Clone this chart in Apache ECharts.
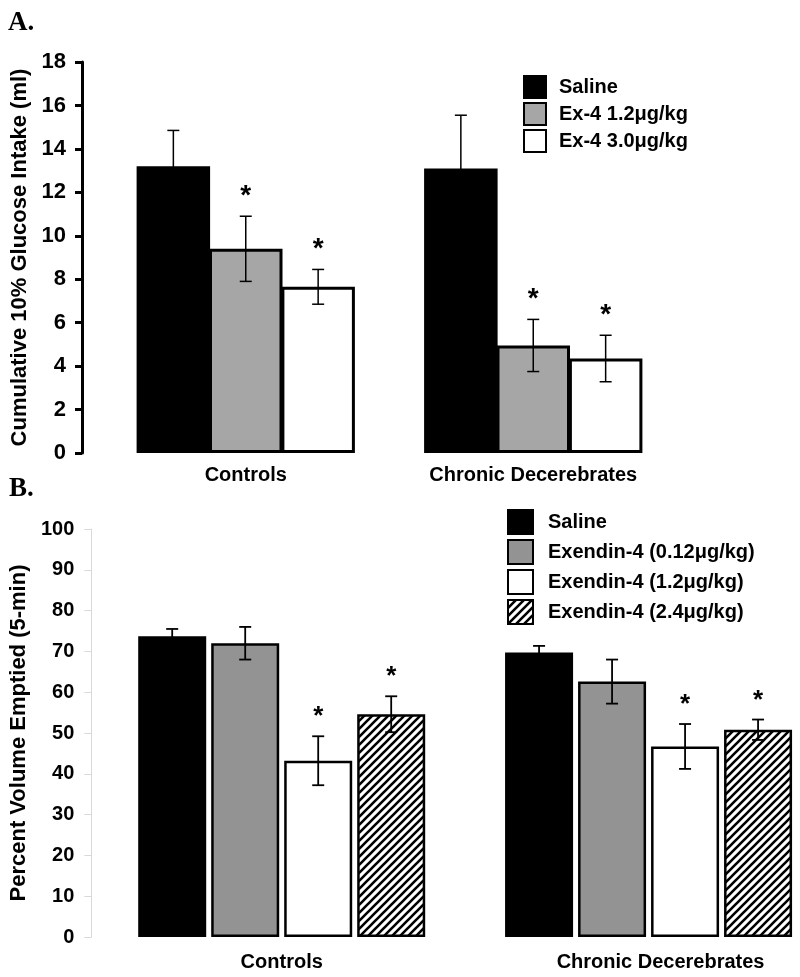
<!DOCTYPE html>
<html><head><meta charset="utf-8">
<script src="https://cdn.jsdelivr.net/npm/echarts@6/dist/echarts.min.js"></script>
<style>html,body{margin:0;padding:0;background:#fff;overflow:hidden}#c{width:840px;height:977px}</style>
</head><body><div id="c"></div>
<script>
// ---------- Panel A data ----------
const categoriesA = ['Controls', 'Chronic Decerebrates'];
const seriesNamesA = ['Saline', 'Ex-4 1.2μg/kg', 'Ex-4 3.0μg/kg'];
const salineA = [13.2, 13.1];
const ex4_12A = [9.4, 4.95];
const ex4_30A = [7.65, 4.35];
const salineErrA = [1.65, 2.45];
const ex4_12ErrA = [1.5, 1.2];
const ex4_30ErrA = [0.8, 1.07];
const sigA = [[0, 0], [1, 1], [1, 1]];
const yTicksA = [0, 2, 4, 6, 8, 10, 12, 14, 16, 18];
const yNameA = 'Cumulative 10% Glucose Intake (ml)';

// ---------- Panel B data ----------
const categoriesB = ['Controls', 'Chronic Decerebrates'];
const seriesNamesB = ['Saline', 'Exendin-4 (0.12μg/kg)', 'Exendin-4 (1.2μg/kg)', 'Exendin-4 (2.4μg/kg)'];
const salineB = [73.7, 69.7];
const ex012B = [72.0, 62.6];
const ex12B = [43.2, 46.7];
const ex24B = [54.6, 50.8];
const salineErrB = [1.8, 1.65];
const ex012ErrB = [4.0, 5.4];
const ex12ErrB = [6.0, 5.5];
const ex24ErrB = [4.4, 2.5];
const sigB = [[0, 0], [0, 0], [1, 1], [1, 1]];
const yTicksB = [0, 10, 20, 30, 40, 50, 60, 70, 80, 90, 100];
const yNameB = 'Percent Volume Emptied (5-min)';

const FONT = '"Liberation Sans", Arial, sans-serif';

function hatch() {
  const c = document.createElement('canvas');
  c.width = 8; c.height = 8;
  const g = c.getContext('2d');
  g.fillStyle = '#fff'; g.fillRect(0, 0, 8, 8);
  g.strokeStyle = '#000'; g.lineWidth = 2.6; g.lineCap = 'square';
  g.beginPath();
  g.moveTo(-1, 9); g.lineTo(9, -1);
  g.moveTo(-5, 5); g.lineTo(5, -5);
  g.moveTo(3, 13); g.lineTo(13, 3);
  g.stroke();
  return c;
}

function errData(means, errs, sig) {
  return means.map((m, i) => [i, m - errs[i], m + errs[i], sig[i]]);
}

function errRender(n, idx, pitch, capW, lw, starFont, starGap) {
  return function (params, api) {
    const c = api.value(0), lo = api.value(1), hi = api.value(2), s = api.value(3);
    const pLo = api.coord([c, lo]);
    const pHi = api.coord([c, hi]);
    const x = pLo[0] + (idx - (n - 1) / 2) * pitch;
    const st = { stroke: '#000', lineWidth: lw };
    const children = [
      { type: 'line', shape: { x1: x, y1: pLo[1], x2: x, y2: pHi[1] }, style: st },
      { type: 'line', shape: { x1: x - capW / 2, y1: pLo[1], x2: x + capW / 2, y2: pLo[1] }, style: st },
      { type: 'line', shape: { x1: x - capW / 2, y1: pHi[1], x2: x + capW / 2, y2: pHi[1] }, style: st }
    ];
    if (s) {
      children.push({ type: 'text', style: { text: '*', x: x, y: pHi[1] - starGap, textAlign: 'center', textVerticalAlign: 'bottom', font: 'bold ' + starFont + 'px ' + FONT, fill: '#000' } });
    }
    return { type: 'group', children };
  };
}

const hatchImg = hatch();
const stylesA = [
  { color: '#000', borderColor: '#000', borderWidth: 3 },
  { color: '#a6a6a6', borderColor: '#000', borderWidth: 3 },
  { color: '#fff', borderColor: '#000', borderWidth: 3 }
];
const stylesB = [
  { color: '#000', borderColor: '#000', borderWidth: 2.5 },
  { color: '#939393', borderColor: '#000', borderWidth: 2.5 },
  { color: '#fff', borderColor: '#000', borderWidth: 2.5 },
  { color: { image: hatchImg, repeat: 'repeat' }, borderColor: '#000', borderWidth: 2.5 }
];

const meansA = [salineA, ex4_12A, ex4_30A];
const errsA = [salineErrA, ex4_12ErrA, ex4_30ErrA];
const meansB = [salineB, ex012B, ex12B, ex24B];
const errsB = [salineErrB, ex012ErrB, ex12ErrB, ex24ErrB];

const BW_A = 73.5, GAP_A = -0.015;
const BW_B = 68, GAP_B = 0.0735;

const series = [];
meansA.forEach((m, i) => {
  series.push({ type: 'bar', name: seriesNamesA[i], xAxisIndex: 0, yAxisIndex: 0, data: m, barWidth: BW_A, barGap: (GAP_A * 100) + '%', itemStyle: stylesA[i], z: 2 });
});
meansA.forEach((m, i) => {
  series.push({ type: 'custom', name: 'errA' + i, xAxisIndex: 0, yAxisIndex: 0, data: errData(m, errsA[i], sigA[i]), encode: { x: 0, y: [1, 2] }, renderItem: errRender(3, i, BW_A * (1 + GAP_A), 12, 1.5, 28, 6), z: 5 });
});
meansB.forEach((m, i) => {
  series.push({ type: 'bar', name: seriesNamesB[i], xAxisIndex: 1, yAxisIndex: 1, data: m, barWidth: BW_B, barGap: (GAP_B * 100) + '%', itemStyle: stylesB[i], z: 2 });
});
meansB.forEach((m, i) => {
  series.push({ type: 'custom', name: 'errB' + i, xAxisIndex: 1, yAxisIndex: 1, data: errData(m, errsB[i], sigB[i]), encode: { x: 0, y: [1, 2] }, renderItem: errRender(4, i, BW_B * (1 + GAP_B), 12, 1.8, 26, 6), z: 5 });
});

const chart = echarts.init(document.getElementById('c'), null, { renderer: 'canvas' });
chart.setOption({
  animation: false,
  backgroundColor: '#fff',
  textStyle: { fontFamily: FONT },
  graphic: [
    { type: 'text', x: 8, y: 23, style: { text: 'A.', font: 'bold 27px "Liberation Serif", serif', fill: '#000', textVerticalAlign: 'middle' } },
    { type: 'text', x: 9, y: 489, style: { text: 'B.', font: 'bold 27px "Liberation Serif", serif', fill: '#000', textVerticalAlign: 'middle' } }
  ],
  grid: [
    { left: 102, top: 62, width: 575, height: 391 },
    { left: 98, top: 529, width: 734, height: 408 }
  ],
  legend: [
    { data: seriesNamesA, orient: 'vertical', left: 518, top: 70, itemWidth: 22, itemHeight: 22, itemGap: 3, icon: 'rect', selectedMode: false,
      textStyle: { fontSize: 20, lineHeight: 22, fontWeight: 'bold', color: '#000', fontFamily: FONT, padding: [0, 0, 0, 8] } },
    { data: seriesNamesB, orient: 'vertical', left: 502, top: 504, itemWidth: 25, itemHeight: 24, itemGap: 4, icon: 'rect', selectedMode: false,
      textStyle: { fontSize: 20, lineHeight: 24, fontWeight: 'bold', color: '#000', fontFamily: FONT, padding: [0, 0, 0, 10] } }
  ],
  xAxis: [
    { type: 'category', gridIndex: 0, data: categoriesA, axisLine: { show: false }, axisTick: { show: false },
      axisLabel: { fontSize: 20, fontWeight: 'bold', color: '#000', margin: 12 } },
    { type: 'category', gridIndex: 1,
      data: categoriesB.map((c, i) => i === 1 ? { value: c, textStyle: { padding: [0, 0, 0, 24] } } : c),
      axisLine: { show: false }, axisTick: { show: false },
      axisLabel: { fontSize: 20, fontWeight: 'bold', color: '#000', margin: 15 } }
  ],
  yAxis: [
    { type: 'value', gridIndex: 0, min: yTicksA[0], max: yTicksA[yTicksA.length - 1], interval: yTicksA[1] - yTicksA[0], offset: 20,
      axisLine: { show: true, lineStyle: { color: '#000', width: 3 } },
      axisTick: { show: true, length: 7, lineStyle: { color: '#000', width: 3 } },
      splitLine: { show: false },
      axisLabel: { fontSize: 22, fontWeight: 'bold', color: '#000', margin: 16 },
      name: yNameA, nameLocation: 'middle', nameGap: 50, nameTextStyle: { fontSize: 22, fontWeight: 'bold', color: '#000' } },
    { type: 'value', gridIndex: 1, min: yTicksB[0], max: yTicksB[yTicksB.length - 1], interval: yTicksB[1] - yTicksB[0], offset: 7,
      axisLine: { show: true, lineStyle: { color: '#d9d9d9', width: 1 } },
      axisTick: { show: true, length: 7, lineStyle: { color: '#d9d9d9', width: 1 } },
      splitLine: { show: false },
      axisLabel: { fontSize: 20, fontWeight: 'bold', color: '#000', margin: 17 },
      name: yNameB, nameLocation: 'middle', nameGap: 58, nameTextStyle: { fontSize: 22, fontWeight: 'bold', color: '#000' } }
  ],
  series
});
</script>
</body></html>
